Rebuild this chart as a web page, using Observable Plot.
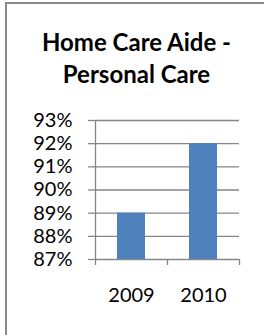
<!DOCTYPE html>
<html>
<head>
<meta charset="utf-8">
<script src="https://cdn.jsdelivr.net/npm/d3@7"></script>
<script src="https://cdn.jsdelivr.net/npm/@observablehq/plot@0.6"></script>
<style>
  body { margin: 0; background: #fff; width: 264px; height: 335px; overflow: hidden; }
  #frame { position: absolute; left: 5px; top: 2px; width: 259px; height: 333px; border-left: 2px solid #8a8a8a; border-top: 2px solid #8a8a8a; box-sizing: border-box; }
  #title { position: absolute; left: 7px; width: 259px; top: 26px; text-align: center; font-family: Lato, sans-serif; font-weight: bold; font-size: 24px; line-height: 32px; color: #000; }
  #chart { position: absolute; left: 0; top: 100px; }
</style>
</head>
<body>
<div id="frame"></div>
<div id="title">Home Care Aide -<br>Personal Care</div>
<div id="chart"></div>
<script>
const years = ["2009", "2010"];
const values = [0.89, 0.92];
const yTicks = [0.87, 0.88, 0.89, 0.90, 0.91, 0.92, 0.93];

const data = years.map((year, i) => ({year, i, value: values[i]}));
const boundaries = d3.range(years.length + 1);
const centers = years.map((_, i) => i + 0.5);
const gray = "#868686";

const chart = Plot.plot({
  width: 264,
  height: 235,
  marginLeft: 95,
  marginRight: 25,
  marginTop: 20,
  marginBottom: 76,
  x: {domain: [0, years.length], axis: null, label: null},
  y: {domain: [0.87, 0.93], axis: null, label: null},
  style: {fontFamily: "Lato, sans-serif", fontSize: "20px", color: "#000", background: "transparent", overflow: "visible"},
  marks: [
    Plot.gridY(yTicks, {stroke: gray, strokeOpacity: 1, strokeWidth: 1.3}),
    Plot.rectY(data, {x1: "i", x2: d => d.i + 1, y1: 0.87, y2: "value", fill: "#4F81BD", insetLeft: 22, insetRight: 22}),
    Plot.ruleX([0], {stroke: gray, strokeWidth: 1.3}),
    Plot.axisY(yTicks, {label: null, tickSize: 7, tickPadding: 16, tickFormat: d3.format(".0%"), stroke: gray, fill: "#000", strokeWidth: 1.3, strokeOpacity: 1}),
    Plot.axisX(boundaries, {label: null, tickSize: 6, tickFormat: () => "", stroke: gray, strokeWidth: 1.3, strokeOpacity: 1}),
    Plot.axisX(centers, {label: null, tickSize: 0, tickPadding: 28, tickFormat: d => years[Math.floor(d)], fill: "#000"})
  ]
});
document.getElementById("chart").appendChild(chart);
</script>
</body>
</html>
